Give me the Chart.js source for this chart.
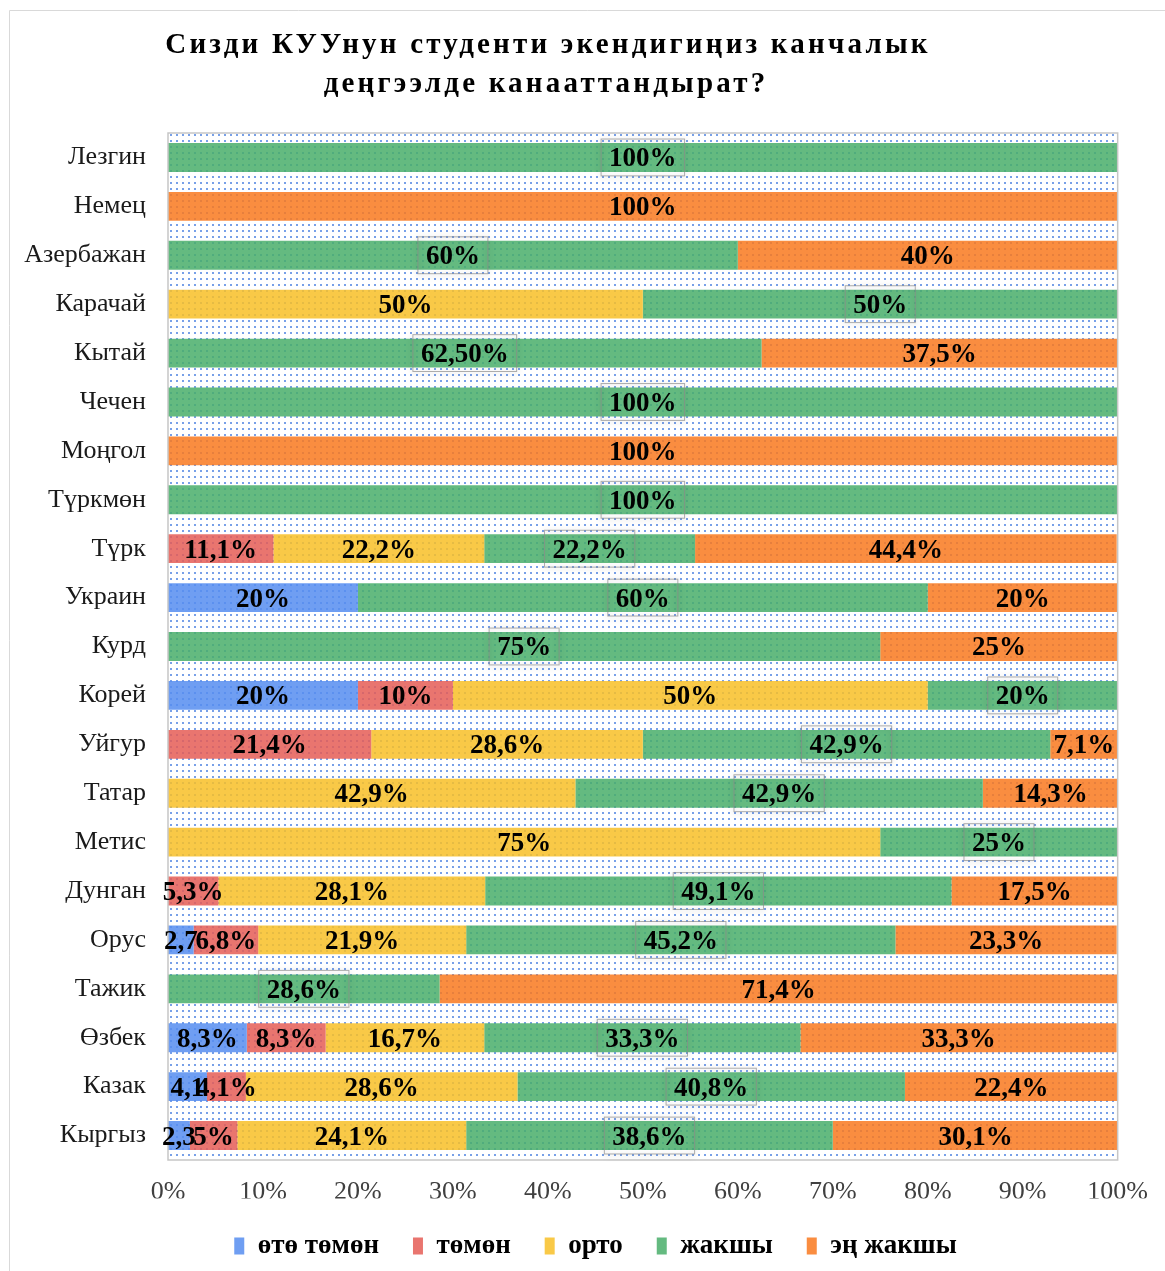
<!DOCTYPE html>
<html>
<head>
<meta charset="utf-8">
<script src="https://cdn.jsdelivr.net/npm/chart.js@4.4.0/dist/chart.umd.min.js"></script>
<style>
  html, body { margin: 0; padding: 0; background: #fff; }
  #wrap { width: 1165px; height: 1271px; }
</style>
</head>
<body>
<div id="wrap"><canvas id="satisfaction"></canvas></div>
<script>
// categories, top to bottom
const categories = ['Лезгин', 'Немец', 'Азербажан', 'Карачай', 'Кытай', 'Чечен', 'Моңгол', 'Түркмөн', 'Түрк', 'Украин', 'Курд',
  'Корей', 'Уйгур', 'Татар', 'Метис', 'Дунган', 'Орус', 'Тажик', 'Өзбек', 'Казак', 'Кыргыз'];
const seriesNames = ['өтө төмөн', 'төмөн', 'орто', 'жакшы', 'эң жакшы'];

const oteTomon  = [0, 0, 0, 0, 0, 0, 0, 0, 0, 20, 0, 20, 0, 0, 0, 0, 2.7, 0, 8.3, 4.1, 2.3];
const tomon     = [0, 0, 0, 0, 0, 0, 0, 0, 11.1, 0, 0, 10, 21.4, 0, 0, 5.3, 6.8, 0, 8.3, 4.1, 5];
const orto      = [0, 0, 0, 50, 0, 0, 0, 0, 22.2, 0, 0, 50, 28.6, 42.9, 75, 28.1, 21.9, 0, 16.7, 28.6, 24.1];
const jakshy    = [100, 0, 60, 50, 62.5, 100, 0, 100, 22.2, 60, 75, 20, 42.9, 42.9, 25, 49.1, 45.2, 28.6, 33.3, 40.8, 38.6];
const engJakshy = [0, 100, 40, 0, 37.5, 0, 100, 0, 44.4, 20, 25, 0, 7.1, 14.3, 0, 17.5, 23.3, 71.4, 33.3, 22.4, 30.1];

// labels that the original writes differently: [series, category, text]
const labelOverrides = [[0, 16, '2,7'], [0, 19, '4,1'], [0, 20, '2,3'], [3, 4, '62,50%']];

const xTicks = [0, 10, 20, 30, 40, 50, 60, 70, 80, 90, 100];
const titleLines = ['Сизди КУУнун студенти экендигиңиз канчалык', 'деңгээлде канааттандырат?'];

const colors = ['rgba(86,141,240,0.85)', 'rgba(229,93,86,0.85)', 'rgba(248,192,39,0.85)', 'rgba(73,174,106,0.85)', 'rgba(249,121,30,0.85)'];
const serif = '"Liberation Serif", "Times New Roman", serif';

function makeDots(){
    const c = document.createElement('canvas');
    c.width = 6; c.height = 6;
    const g = c.getContext('2d');
    g.fillStyle = '#ffffff';
    g.fillRect(0, 0, 6, 6);
    g.fillStyle = 'rgb(120,160,232)';
    g.fillRect(2, 2, 2, 2);
    return c;
}

function labelFor(di, i, v){
    const o = labelOverrides.find((r) => r[0] === di && r[1] === i);
    if (o) return o[2];
    return String(v).replace('.', ',') + '%';
}

const frameAndBackground = {
    id: 'frameAndBackground',
    beforeDraw(chart){
        const ctx = chart.ctx;
        const a = chart.chartArea;
        ctx.save();
        ctx.strokeStyle = '#d9d9d9';
        ctx.lineWidth = 1;
        ctx.beginPath();
        ctx.moveTo(9.5, 1271);
        ctx.lineTo(9.5, 10.5);
        ctx.lineTo(1165, 10.5);
        ctx.stroke();
        ctx.fillStyle = ctx.createPattern(makeDots(), 'repeat');
        ctx.fillRect(a.left, a.top, a.right - a.left, a.bottom - a.top);
        ctx.restore();
    },
    afterDatasetsDraw(chart){
        const ctx = chart.ctx;
        const a = chart.chartArea;
        ctx.save();
        ctx.strokeStyle = '#c6c6c6';
        ctx.lineWidth = 1.5;
        ctx.strokeRect(a.left, a.top, a.right - a.left, a.bottom - a.top);
        ctx.restore();
    }
};

// the legend in the original sits a little right of centre
const legendShift = {
    id: 'legendShift',
    afterLayout(chart){
        const lg = chart.legend;
        if (!lg || lg._shifted) return;
        const draw = lg.draw;
        lg.draw = function(){
            this.ctx.save();
            this.ctx.translate(36, 0);
            draw.apply(this, arguments);
            this.ctx.restore();
        };
        lg._shifted = true;
    }
};

const valueLabels = {
    id: 'valueLabels',
    afterDatasetsDraw(chart){
        const ctx = chart.ctx;
        ctx.save();
        ctx.font = 'bold 27px ' + serif;
        ctx.textAlign = 'center';
        ctx.textBaseline = 'middle';
        chart.data.datasets.forEach((ds, di) => {
            const meta = chart.getDatasetMeta(di);
            meta.data.forEach((bar, i) => {
                const v = ds.data[i];
                if (!v) return;
                const text = labelFor(di, i, v);
                const cx = (bar.x + bar.base) / 2;
                const cy = bar.y;
                if (di === 3) {
                    const w = ctx.measureText(text).width + 16;
                    const h = bar.height + 8;
                    ctx.save();
                    ctx.shadowColor = 'rgba(0,0,0,0.35)';
                    ctx.shadowBlur = 6;
                    ctx.shadowOffsetY = 1;
                    ctx.strokeStyle = 'rgba(140,140,140,0.7)';
                    ctx.lineWidth = 1;
                    ctx.strokeRect(cx - w / 2, cy - h / 2, w, h);
                    ctx.restore();
                }
                ctx.fillStyle = '#000';
                ctx.fillText(text, cx, cy + 2);
            });
        });
        ctx.restore();
    }
};

const titleText = {
    id: 'titleText',
    afterDraw(chart){
        const ctx = chart.ctx;
        ctx.save();
        ctx.font = 'bold 29px ' + serif;
        ctx.letterSpacing = '3.2px';
        ctx.fillStyle = '#000';
        ctx.textAlign = 'center';
        ctx.textBaseline = 'middle';
        ctx.fillText(titleLines[0], 548, 46);
        ctx.fillText(titleLines[1], 546, 85);
        ctx.restore();
    }
};

function main(){
    const values = [oteTomon, tomon, orto, jakshy, engJakshy];
    const ctx = document.getElementById('satisfaction').getContext('2d');

    new Chart(ctx, {
        type: 'bar',
        data: {
            labels: categories,
            datasets: seriesNames.map((name, k) => ({
                label: name,
                data: values[k],
                backgroundColor: colors[k],
                borderWidth: 0,
                barPercentage: 0.59,
                categoryPercentage: 1
            }))
        },
        options: {
            indexAxis: 'y',
            responsive: true,
            maintainAspectRatio: false,
            animation: false,
            layout: {
                padding: { top: 133, left: 0, right: 46, bottom: 1.5 }
            },
            scales: {
                x: {
                    stacked: true,
                    min: 0,
                    max: 100,
                    afterBuildTicks: (scale) => { scale.ticks = xTicks.map((v) => ({ value: v })); },
                    afterFit: (scale) => { scale.height = 38.5; },
                    grid: { display: false, drawTicks: false },
                    border: { display: false },
                    ticks: {
                        padding: 17,
                        maxRotation: 0,
                        color: '#404040',
                        font: { family: serif, size: 26 },
                        callback: (v) => v + '%'
                    }
                },
                y: {
                    stacked: true,
                    afterFit: (scale) => { scale.width = 168; },
                    grid: { display: false, drawTicks: false },
                    border: { display: false },
                    ticks: {
                        padding: 22,
                        color: '#1a1a1a',
                        font: { family: serif, size: 26 }
                    }
                }
            },
            plugins: {
                title: { display: false },
                tooltip: { enabled: false },
                legend: {
                    position: 'bottom',
                    labels: {
                        boxWidth: 10,
                        boxHeight: 17,
                        padding: 34,
                        color: '#000',
                        font: { family: serif, size: 27, weight: 'bold' }
                    }
                }
            }
        },
        plugins: [frameAndBackground, valueLabels, titleText, legendShift]
    });
}

main();
</script>
</body>
</html>
